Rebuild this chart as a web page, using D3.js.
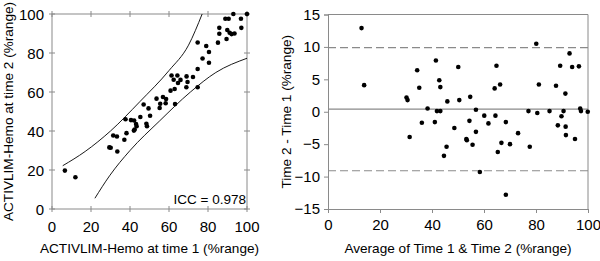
<!DOCTYPE html>
<html>
<head>
<meta charset="utf-8">
<script src="https://cdn.jsdelivr.net/npm/d3@7"></script>
<style>
  body { margin: 0; background: #fff; }
  svg { display: block; }
  svg text { font-family: "Liberation Sans", Arial, sans-serif; }
</style>
</head>
<body>
<svg id="chart" width="600" height="261"></svg>
<script>
// left panel: time 1 vs time 2 (%range)
const time1 = [100, 93.0, 88.9, 90.6, 96.9, 97.1, 85.8, 85.8, 85.1, 89.9, 91.1, 92.1, 93.6, 89.5,
  74.7, 79.1, 80.5, 77.2, 80.5, 74.7, 61.3, 64.3, 62.4, 65.9, 69.0, 72.3, 64.6, 69.5, 62.9, 60.8,
  68.9, 74.7, 53.6, 56.9, 58.5, 55.5, 58.3, 55.2, 63.1, 47.0, 49.5, 45.3, 50.3, 37.7, 40.5, 42.1,
  6.6, 12.0, 29.4, 30.1, 31.4, 33.3, 33.5, 37.1, 38.2, 43.1, 43.4, 42.4, 42.0, 48.4, 48.7];
const time2 = [100, 100, 97.6, 97.6, 97.6, 92.9, 92.9, 89.9, 85.3, 91.8, 90.4, 89.7, 90.0, 87.2,
  85.4, 83.6, 80.5, 77.2, 75.0, 71.8, 68.5, 68.5, 66.3, 66.2, 68.0, 67.7, 64.6, 65.1, 61.5, 60.7,
  62.4, 62.4, 56.6, 57.4, 56.4, 54.0, 54.2, 51.8, 53.8, 53.6, 51.6, 47.2, 47.8, 46.0, 45.6, 45.4,
  19.7, 16.3, 31.6, 31.4, 37.7, 37.2, 29.5, 35.5, 38.9, 43.6, 42.4, 40.8, 40.2, 43.7, 42.4];

// prediction band curves
const upperX = [5.5, 17, 30, 45, 60, 70, 77];
const upperY = [22.2, 29.5, 40, 55, 71, 84, 100];
const lowerX = [22, 29.5, 40, 55, 71, 84, 100];
const lowerY = [5.5, 17, 30, 45, 60, 70, 77.3];
const iccText = "ICC = 0.978";

// right panel: Bland-Altman
const baAvg = [12.9, 13.9, 30.2, 30.6, 34.3, 35.1, 38.3, 36.1, 41.5, 42.8, 43.2, 41.9, 43.2, 41.1,
  45.9, 50.1, 50.5, 48.6, 54.7, 56.9, 54.4, 60.1, 61.7, 64.4, 64.1, 64.8, 66.2, 68.4, 77.1, 80.1,
  81.1, 80.5, 85.2, 87.7, 89.3, 91.3, 90.6, 89.8, 92.9, 93.9, 96.5, 97.0, 97.3, 99.9, 88.4, 91.4,
  31.4, 44.6, 45.6, 53.2, 53.4, 56.9, 55.6, 58.4, 65.3, 66.7, 68.4, 70.0, 73.1, 77.6, 91.5, 95.0];
const baDiff = [12.9, 4.1, 2.2, 1.8, 6.4, 3.7, 0.5, -1.7, 7.9, 4.85, 3.8, 0.1, 0.1, -1.6,
  1.6, 6.9, 1.8, -2.5, 2.3, 0.3, -1.4, -0.6, -1.8, -0.6, 3.6, 7.1, 4.2, -1.6, 0.1, 10.5,
  4.2, -0.2, 0.1, 4.0, 7.1, 2.8, 0.1, -0.7, 9.0, 6.9, 7.0, 0.5, 0.1, 0.0, -2.1, -2.3,
  -3.9, -6.8, -5.4, -4.2, -4.4, -3.1, -5.1, -9.3, -6.2, -4.8, -12.8, -5.0, -3.3, -5.4, -3.6, -4.2];
const meanDiff = 0.4;
const limits = [9.9, -9.1];

const leftTicks = [0, 20, 40, 60, 80, 100];
const baXTicks = [0, 20, 40, 60, 80, 100];
const baYTicks = [-15, -10, -5, 0, 5, 10, 15];

const grey = "#8a8a8a";
const svg = d3.select("#chart");

// ---------- left panel ----------
const L = {left: 52, right: 247, top: 14, bottom: 209};
const x1 = d3.scaleLinear().domain([0, 100]).range([L.left, L.right]);
const y1 = d3.scaleLinear().domain([0, 100]).range([L.bottom, L.top]);

const left = svg.append("g");

left.append("rect")
    .attr("x", L.left).attr("y", L.top)
    .attr("width", L.right - L.left).attr("height", L.bottom - L.top)
    .attr("fill", "none").attr("stroke", grey);

// crossing tick marks on all four sides
function crossTicks(g, vals, orient, pos) {
    vals.forEach(v => {
        if (orient === "h") {
            g.append("line").attr("x1", x1(v)).attr("x2", x1(v))
                .attr("y1", pos - 3).attr("y2", pos + 3).attr("stroke", grey);
        } else {
            g.append("line").attr("y1", y1(v)).attr("y2", y1(v))
                .attr("x1", pos - 3).attr("x2", pos + 3).attr("stroke", grey);
        }
    });
}
crossTicks(left, leftTicks, "h", L.bottom);
crossTicks(left, leftTicks, "h", L.top);
crossTicks(left, leftTicks, "v", L.left);
crossTicks(left, leftTicks, "v", L.right);

left.selectAll(".xt").data(leftTicks).join("text")
    .attr("x", d => x1(d)).attr("y", 232)
    .attr("text-anchor", "middle").attr("font-size", 15)
    .text(d => d);
left.selectAll(".yt").data(leftTicks).join("text")
    .attr("x", L.left - 8).attr("y", d => y1(d) + 5.5)
    .attr("text-anchor", "end").attr("font-size", 15)
    .text(d => d);

left.append("text")
    .attr("x", (L.left + L.right) / 2).attr("y", 253)
    .attr("text-anchor", "middle").attr("font-size", 13.6)
    .text("ACTIVLIM-Hemo at time 1 (%range)");
left.append("text")
    .attr("transform", `translate(13,${(L.top + L.bottom) / 2}) rotate(-90)`)
    .attr("text-anchor", "middle").attr("font-size", 13.6)
    .text("ACTIVLIM-Hemo at time 2 (%range)");

const band = d3.line().x(d => x1(d[0])).y(d => y1(d[1])).curve(d3.curveMonotoneX);
left.append("path").datum(d3.zip(upperX, upperY))
    .attr("d", band).attr("fill", "none").attr("stroke", "#000").attr("stroke-width", 0.9);
left.append("path").datum(d3.zip(lowerX, lowerY))
    .attr("d", band).attr("fill", "none").attr("stroke", "#000").attr("stroke-width", 0.9);

left.selectAll("circle").data(d3.zip(time1, time2)).join("circle")
    .attr("cx", d => x1(d[0])).attr("cy", d => y1(d[1]))
    .attr("r", 2.3).attr("fill", "#000");

left.append("text")
    .attr("x", L.right - 1).attr("y", 204)
    .attr("text-anchor", "end").attr("font-size", 13.5)
    .text(iccText);

// ---------- right panel ----------
const R = {left: 328, right: 588, top: 14.5, bottom: 209};
const x2 = d3.scaleLinear().domain([0, 100]).range([R.left, R.right]);
const y2 = d3.scaleLinear().domain([-15, 15]).range([R.bottom, R.top]);

const right = svg.append("g");

right.append("g")
    .attr("transform", `translate(0,${R.bottom})`)
    .call(d3.axisBottom(x2).tickValues(baXTicks).tickSize(4).tickPadding(6))
    .attr("font-family", null)
    .call(g => g.selectAll("line,path").attr("stroke", grey))
    .call(g => g.selectAll("text").attr("font-size", 15).attr("fill", "#000"));

right.append("g")
    .attr("transform", `translate(${R.left},0)`)
    .call(d3.axisLeft(y2).tickValues(baYTicks).tickSize(4).tickPadding(4))
    .attr("font-family", null)
    .call(g => g.selectAll("line,path").attr("stroke", grey))
    .call(g => g.selectAll("text").attr("font-size", 15).attr("fill", "#000"));

// top and right frame
right.append("path")
    .attr("d", `M${R.left},${R.top}H${R.right}V${R.bottom}`)
    .attr("fill", "none").attr("stroke", grey);

right.append("line")
    .attr("x1", R.left).attr("x2", R.right)
    .attr("y1", y2(meanDiff)).attr("y2", y2(meanDiff))
    .attr("stroke", grey).attr("stroke-width", 1.2);
right.selectAll(".lim").data(limits).join("line")
    .attr("x1", R.left).attr("x2", R.right)
    .attr("y1", d => y2(d)).attr("y2", d => y2(d))
    .attr("stroke", grey).attr("stroke-width", 1.2)
    .attr("stroke-dasharray", "8,4");

right.selectAll("circle").data(d3.zip(baAvg, baDiff)).join("circle")
    .attr("cx", d => x2(d[0])).attr("cy", d => y2(d[1]))
    .attr("r", 2.3).attr("fill", "#000");

right.append("text")
    .attr("x", (R.left + R.right) / 2).attr("y", 253)
    .attr("text-anchor", "middle").attr("font-size", 13.6)
    .text("Average of Time 1 & Time 2 (%range)");
right.append("text")
    .attr("transform", `translate(291,${(R.top + R.bottom) / 2}) rotate(-90)`)
    .attr("text-anchor", "middle").attr("font-size", 13.6)
    .text("Time 2 - Time 1 (%range)");
</script>
</body>
</html>
